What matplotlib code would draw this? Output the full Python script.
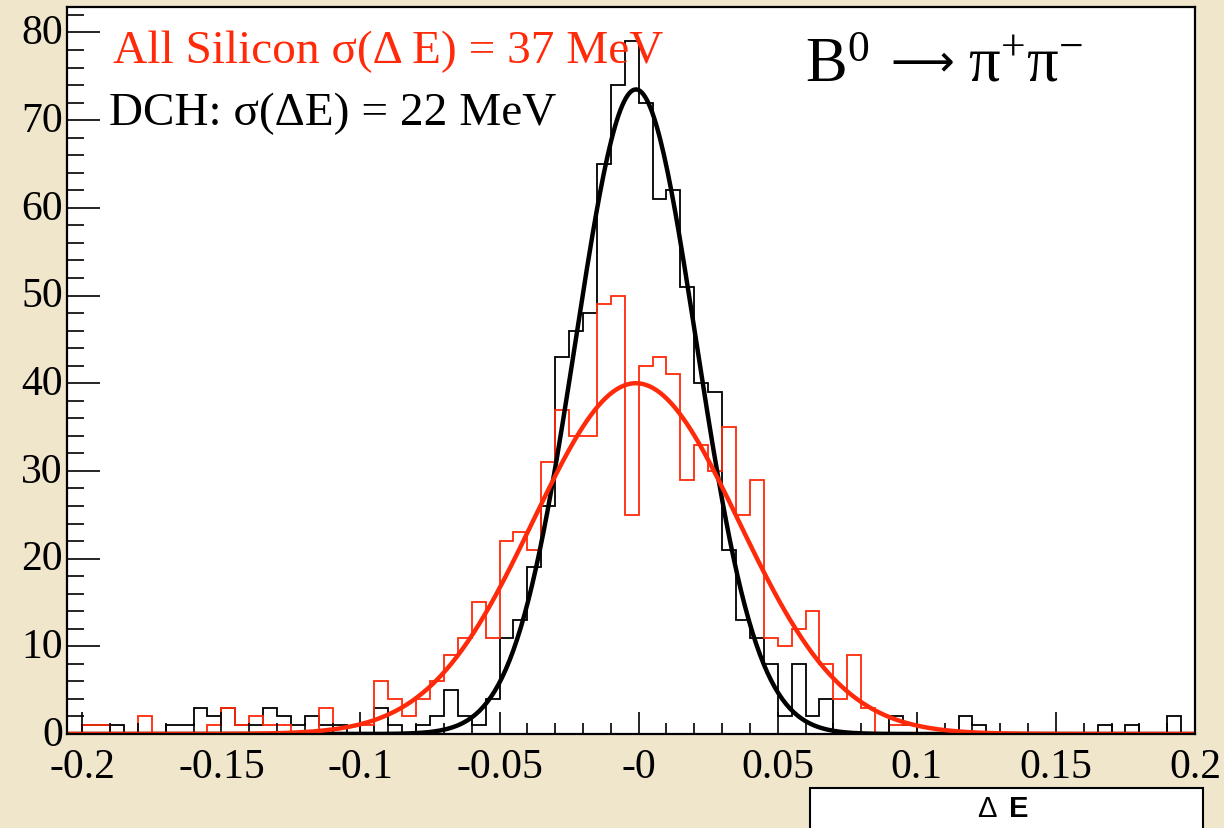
import numpy as np
import matplotlib.pyplot as plt
import matplotlib.transforms as mtransforms
from matplotlib.patches import Rectangle

plt.rcParams['mathtext.fontset'] = 'custom'
plt.rcParams['mathtext.rm'] = 'Liberation Serif'
plt.rcParams['mathtext.it'] = 'Liberation Serif:italic'

# 80 bins of 0.005 from -0.2 to 0.2
bin_edges = np.linspace(-0.2, 0.2, 81)

dch_counts = [1, 1, 1, 0, 0, 0, 1, 1, 3, 2,
              3, 1, 1, 3, 2, 1, 2, 1, 1, 0,
              0, 3, 1, 0, 1, 2, 5, 2, 1, 4,
              11, 13, 19, 26, 43, 46, 48, 65, 74, 79,
              72, 61, 62, 51, 40, 39, 21, 13, 11, 8,
              2, 8, 2, 4, 0, 0, 0, 0, 2, 1,
              0, 0, 0, 2, 1, 0, 0, 0, 0, 0,
              0, 0, 0, 1, 0, 1, 0, 0, 2, 0]

si_counts = [1, 1, 0, 0, 2, 0, 0, 0, 0, 1,
             3, 1, 2, 1, 1, 0, 0, 3, 0, 0,
             1, 6, 4, 2, 4, 6, 9, 11, 15, 11,
             22, 23, 21, 31, 37, 34, 34, 49, 50, 25,
             42, 43, 41, 29, 33, 30, 35, 25, 29, 11,
             10, 12, 14, 8, 4, 9, 3, 0, 1, 1,
             0, 0, 0, 0, 0, 0, 0, 0, 0, 0,
             0, 0, 0, 0, 0, 0, 0, 0, 0, 0]

# gaussian fit parameters (amplitude, mean, sigma)
dch_fit = (73.5, -0.001, 0.0218)
si_fit = (40.0, -0.001, 0.037)

xtick_vals = [-0.2, -0.15, -0.1, -0.05, 0.0, 0.05, 0.1, 0.15, 0.2]
xtick_labels = ['-0.2', '-0.15', '-0.1', '-0.05', '-0', '0.05', '0.1', '0.15', '0.2']
ytick_vals = [0, 10, 20, 30, 40, 50, 60, 70, 80]

red = '#ff2a0a'
bg = '#f0e6cc'

fig = plt.figure(figsize=(12.24, 8.29), dpi=100, facecolor=bg)
ax = fig.add_axes([67/1224, 1 - 735/829, (1195-67)/1224, (735-8)/829])
ax.set_facecolor('white')

ax.stairs(dch_counts, bin_edges, color='black', lw=1.3)
ax.stairs(si_counts, bin_edges, color=red, lw=1.3)

xf = np.linspace(-0.2055, 0.2, 600)
def gaus(x, p):
    return p[0] * np.exp(-0.5 * ((x - p[1]) / p[2]) ** 2)

ax.plot(xf, gaus(xf, dch_fit), color='black', lw=3.2)
ax.plot(xf, gaus(xf, si_fit), color=red, lw=3.2)

ax.set_xlim(-0.2055, 0.2)
ax.set_ylim(0, 82.9)

ax.set_xticks(xtick_vals)
ax.set_xticklabels(xtick_labels)
ax.set_xticks(np.arange(-0.2, 0.2001, 0.01), minor=True)
ax.set_yticks(ytick_vals)
ax.set_yticks(np.arange(0, 83, 2), minor=True)

for lab in ax.get_xticklabels() + ax.get_yticklabels():
    lab.set_family('Liberation Serif')
    lab.set_fontsize(30)

ax.tick_params(axis='x', which='major', direction='in', length=16, width=1.2, pad=10,
               top=False)
ax.tick_params(axis='x', which='minor', direction='in', length=8, width=1.2, top=False)
ax.tick_params(axis='y', which='major', direction='in', length=24, width=1.2, pad=3,
               right=False)
ax.tick_params(axis='y', which='minor', direction='in', length=12, width=1.2, right=False)
for s in ax.spines.values():
    s.set_linewidth(1.6)

# y labels sit a little above their ticks in the original
shift = mtransforms.ScaledTranslation(0, 4/100, fig.dpi_scale_trans)
for lab in ax.get_yticklabels():
    lab.set_transform(lab.get_transform() + shift)

ax.text(-0.1888, 76.6, 'All Silicon σ(Δ E) = 37 MeV', color=red,
        family='Liberation Serif', fontsize=34, va='baseline', ha='left')
ax.text(-0.1905, 69.6, 'DCH: σ(ΔE) = 22 MeV', color='black',
        family='Liberation Serif', fontsize=34, va='baseline', ha='left')

# B0 -> pi+ pi- title, in three pieces
ax.text(0.0598, 74.5, 'B$^{0}$', color='black', family='Liberation Serif',
        fontsize=45, va='baseline', ha='left')
ax.text(0.0905, 76.6, '⟶', color='black', family='DejaVu Sans', fontsize=32,
        va='center', ha='left')
ax.text(0.1183, 74.5, 'π$^{+}$π$^{-}$', color='black', family='Liberation Serif',
        fontsize=45, va='baseline', ha='left')

fig.patches.append(Rectangle((810/1224, -0.01), 393/1224, 48.5/829, transform=fig.transFigure,
                             facecolor='white', edgecolor='black', lw=1.5))
fig.text(987/1224, 1 - 809/829, 'Δ', family='Liberation Sans',
         fontsize=21, ha='center', va='center')
fig.text(1019/1224, 1 - 809/829, 'E', family='Liberation Sans', weight='bold',
         fontsize=21, ha='center', va='center')

fig.savefig('out.png', dpi=100, facecolor=bg)
